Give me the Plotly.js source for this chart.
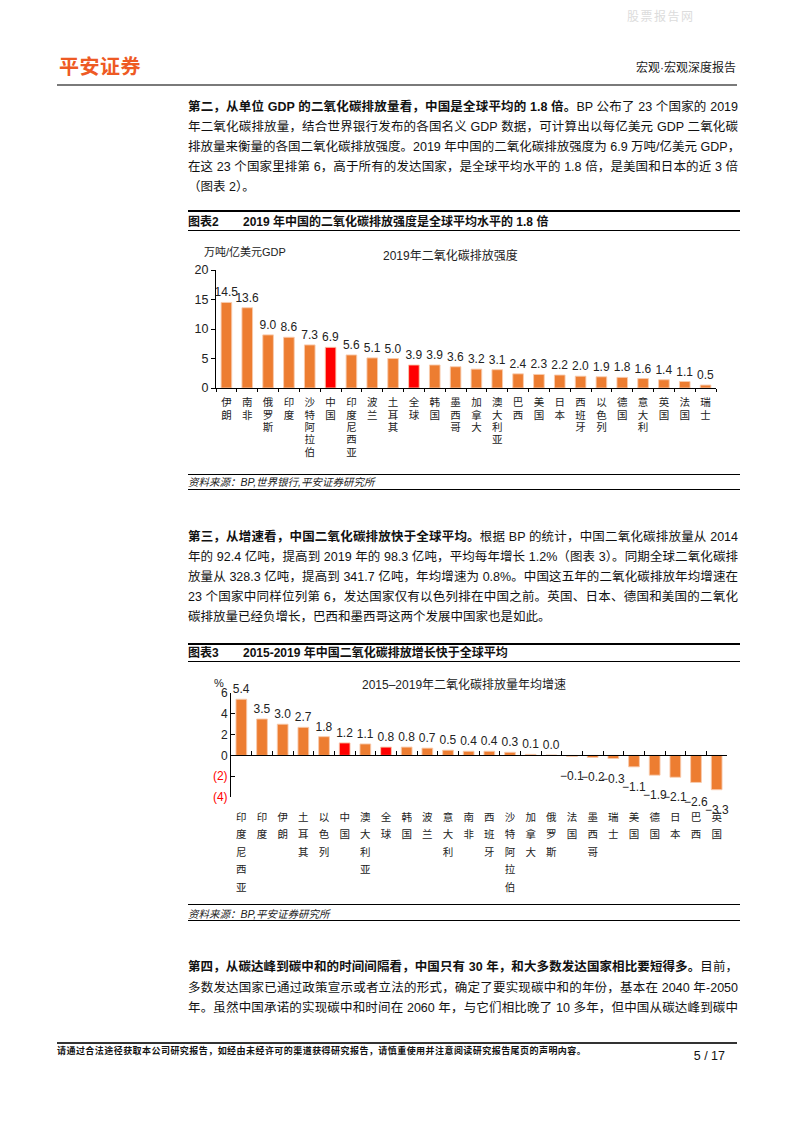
<!DOCTYPE html>
<html><head><meta charset="utf-8">
<script src="https://cdn.plot.ly/plotly-3.0.1.min.js"></script>
<style>
body{margin:0;background:#fff;}
#page{position:relative;width:793px;height:1122px;overflow:hidden;font-family:"Liberation Sans","Noto Sans CJK SC",sans-serif;color:#111;background:#fff;}
.p{position:absolute;left:188px;width:550px;height:20px;line-height:20px;font-size:12.5px;white-space:nowrap;text-align:justify;text-align-last:justify;color:#111;}
.p.last{text-align-last:left;}
.p b{font-weight:bold;}
.hr{position:absolute;left:188px;width:552px;background:#000;}
.ct{position:absolute;left:188px;font-size:12px;font-weight:bold;line-height:16px;white-space:nowrap;}
.ct span{position:absolute;left:55px;top:0;}
.src{position:absolute;left:188px;font-size:10.5px;font-style:italic;line-height:14px;color:#222;white-space:nowrap;}
.chart{position:absolute;left:188px;}
</style></head>
<body>
<div id="page">
  <div style="position:absolute;left:627px;top:7px;font-size:12px;letter-spacing:1.5px;color:#dcdcdc;">股票报告网</div>
  <div style="position:absolute;left:59px;top:55px;font-size:20px;font-weight:bold;color:#EE5A24;line-height:24px;letter-spacing:0.5px;">平安证券</div>
  <div style="position:absolute;right:57px;top:60px;font-size:12px;color:#222;line-height:16px;">宏观·宏观深度报告</div>
  <div style="position:absolute;left:57px;top:84px;width:680px;height:2px;background:#7a7a7a;"></div>

  <div class="p" style="top:97px;"><b>第二，从单位 GDP 的二氧化碳排放量看，中国是全球平均的 1.8 倍。</b>BP 公布了 23 个国家的 2019</div>
  <div class="p" style="top:117px;">年二氧化碳排放量，结合世界银行发布的各国名义 GDP 数据，可计算出以每亿美元 GDP 二氧化碳</div>
  <div class="p" style="top:137px;">排放量来衡量的各国二氧化碳排放强度。2019 年中国的二氧化碳排放强度为 6.9 万吨/亿美元 GDP，</div>
  <div class="p" style="top:157px;">在这 23 个国家里排第 6，高于所有的发达国家，是全球平均水平的 1.8 倍，是美国和日本的近 3 倍</div>
  <div class="p last" style="top:177px;">（图表 2）。</div>

  <div class="hr" style="top:210px;height:1.5px;"></div>
  <div class="ct" style="top:214px;">图表2<span>2019 年中国的二氧化碳排放强度是全球平均水平的 1.8 倍</span></div>
  <div class="hr" style="top:230px;height:1px;"></div>

  <div id="chart2" class="chart" style="top:235px;width:552px;height:237px;"></div>

  <div class="hr" style="top:474px;height:1.2px;"></div>
  <div class="src" style="top:475px;">资料来源：BP,世界银行,平安证券研究所</div>
  <div class="hr" style="top:489px;height:1px;"></div>

  <div class="p" style="top:527px;"><b>第三，从增速看，中国二氧化碳排放快于全球平均。</b>根据 BP 的统计，中国二氧化碳排放量从 2014</div>
  <div class="p" style="top:547px;">年的 92.4 亿吨，提高到 2019 年的 98.3 亿吨，平均每年增长 1.2%（图表 3）。同期全球二氧化碳排</div>
  <div class="p" style="top:567px;">放量从 328.3 亿吨，提高到 341.7 亿吨，年均增速为 0.8%。中国这五年的二氧化碳排放年均增速在</div>
  <div class="p" style="top:587px;">23 个国家中同样位列第 6，发达国家仅有以色列排在中国之前。英国、日本、德国和美国的二氧化</div>
  <div class="p last" style="top:607px;">碳排放量已经负增长，巴西和墨西哥这两个发展中国家也是如此。</div>

  <div class="hr" style="top:643px;height:1.5px;"></div>
  <div class="ct" style="top:645px;">图表3<span>2015-2019 年中国二氧化碳排放增长快于全球平均</span></div>
  <div class="hr" style="top:661px;height:1px;"></div>

  <div id="chart3" class="chart" style="top:667px;width:552px;height:236px;"></div>

  <div class="hr" style="top:904px;height:1.2px;"></div>
  <div class="src" style="top:907px;">资料来源：BP,平安证券研究所</div>
  <div class="hr" style="top:920px;height:1px;"></div>

  <div class="p" style="top:957px;"><b>第四，从碳达峰到碳中和的时间间隔看，中国只有 30 年，和大多数发达国家相比要短得多。</b>目前，</div>
  <div class="p" style="top:978px;">多数发达国家已通过政策宣示或者立法的形式，确定了要实现碳中和的年份，基本在 2040 年-2050</div>
  <div class="p" style="top:998px;">年。虽然中国承诺的实现碳中和时间在 2060 年，与它们相比晚了 10 多年，但中国从碳达峰到碳中</div>

  <div style="position:absolute;left:57px;top:1042px;width:680px;height:2px;background:#333;"></div>
  <div style="position:absolute;left:57px;top:1045px;font-size:9px;font-weight:bold;letter-spacing:0.45px;line-height:12px;color:#111;white-space:nowrap;">请通过合法途径获取本公司研究报告，如经由未经许可的渠道获得研究报告，请慎重使用并注意阅读研究报告尾页的声明内容。</div>
  <div style="position:absolute;right:68px;top:1048px;font-size:12.5px;line-height:16px;color:#111;">5 / 17</div>
</div>

<script>
// ---- Chart 2 data: 2019 CO2 emission intensity (万吨/亿美元GDP)
const cats2 = ['伊朗','南非','俄罗斯','印度','沙特阿拉伯','中国','印度尼西亚','波兰','土耳其','全球','韩国','墨西哥','加拿大','澳大利亚','巴西','美国','日本','西班牙','以色列','德国','意大利','英国','法国','瑞士'];
const vals2 = [14.5,13.6,9.0,8.6,7.3,6.9,5.6,5.1,5.0,3.9,3.9,3.6,3.2,3.1,2.4,2.3,2.2,2.0,1.9,1.8,1.6,1.4,1.1,0.5];
const yTicks2 = [0,5,10,15,20];

// ---- Chart 3 data: 2015-2019 average annual growth of CO2 emissions (%)
const cats3 = ['印度尼西亚','印度','伊朗','土耳其','以色列','中国','澳大利亚','全球','韩国','波兰','意大利','南非','西班牙','沙特阿拉伯','加拿大','俄罗斯','法国','墨西哥','瑞士','美国','德国','日本','巴西','英国'];
const vals3 = [5.4,3.5,3.0,2.7,1.8,1.2,1.1,0.8,0.8,0.7,0.5,0.4,0.4,0.3,0.1,0.04,-0.1,-0.2,-0.3,-1.1,-1.9,-2.1,-2.6,-3.3];
const yTicks3 = [6,4,2,0,-2,-4];
const yTickText3 = ['6','4','2','0','(2)','(4)'];

const highlight = ['中国','全球'];
const ORANGE = '#ED7D31', RED = '#FF0000';
const FONT = 'Liberation Sans, Noto Sans CJK SC, sans-serif';

function vert(name, size){
  return name.split('').map(c => '<span style="font-size:' + size + 'px">' + c + '</span>').join('<br>');
}
function fmt(v){ return (v < 0 ? '−' : '') + Math.abs(v).toFixed(1); }

const cfg = {staticPlot:true, displayModeBar:false};

// ---------- Chart 2 ----------
Plotly.newPlot('chart2', [{
  type:'bar', x:cats2, y:vals2, width:0.51,
  marker:{color:cats2.map(c => highlight.includes(c) ? RED : ORANGE), line:{color:'rgba(248,203,173,0.9)', width:1}},
  text: vals2.map(fmt), textposition:'outside', cliponaxis:false, constraintext:'none',
  textfont:{size:12, color:'#222', family:FONT}, hoverinfo:'skip'
}], {
  width:552, height:237, margin:{l:28, r:24, t:35, b:84},
  paper_bgcolor:'rgba(0,0,0,0)', plot_bgcolor:'rgba(0,0,0,0)',
  font:{family:FONT, size:12, color:'#222'}, showlegend:false,
  xaxis:{type:'category', categoryarray:cats2, range:[-0.5, cats2.length-0.5], showline:true, linecolor:'#000', linewidth:1,
    ticks:'outside', ticklen:3, tickcolor:'#000', tickson:'boundaries', tickmode:'array', tickvals:cats2,
    ticktext:cats2.map(c => vert(c, 10.5)), tickangle:0, tickfont:{size:9.5, color:'#222'}, ticklabelstandoff:6,
    showgrid:false, zeroline:false},
  yaxis:{range:[0,20], tickmode:'array', tickvals:yTicks2, showline:true, linecolor:'#000', linewidth:1, ticks:'outside', ticklen:4,
    tickcolor:'#000', showgrid:false, zeroline:false, tickfont:{size:12.5, color:'#222'}},
  annotations:[
    {xref:'paper', yref:'paper', x:0.469, y:1.127, text:'2019年二氧化碳排放强度', showarrow:false, font:{size:12, color:'#222'}, xanchor:'center', yanchor:'middle'},
    {xref:'paper', yref:'paper', x:-0.028, y:1.153, text:'万吨/亿美元GDP', showarrow:false, font:{size:11, color:'#222'}, xanchor:'left', yanchor:'middle'}
  ]
}, cfg);

// ---------- Chart 3 ----------
const ann3 = [
  {xref:'paper', yref:'paper', x:0.47, y:1.077, text:'2015–2019年二氧化碳排放量年均增速', showarrow:false, font:{size:12, color:'#222'}, xanchor:'center', yanchor:'middle'},
  {xref:'paper', yref:'paper', x:-0.024, y:1.1, text:'%', showarrow:false, font:{size:11, color:'#222'}, xanchor:'center', yanchor:'middle'}
];
cats3.forEach((c, i) => {
  if (vals3[i] < 0) ann3.push({xref:'x', yref:'y', x:c, y:vals3[i], text:fmt(vals3[i]), showarrow:false, yanchor:'top', xanchor:'center', yshift:-11, font:{size:12, color:'#222'}});
});
Plotly.newPlot('chart3', [{
  type:'bar', x:cats3, y:vals3, width:0.52,
  marker:{color:cats3.map(c => highlight.includes(c) ? RED : ORANGE), line:{color:'rgba(248,203,173,0.9)', width:1}},
  text: vals3.map(v => v >= 0 ? fmt(v) : ''), textposition:'outside', cliponaxis:false, constraintext:'none',
  textfont:{size:12, color:'#222', family:FONT}, hoverinfo:'skip'
},{
  type:'scatter', x:cats3, y:cats3.map(() => 0), xaxis:'x2', mode:'markers', marker:{opacity:0}, hoverinfo:'skip', showlegend:false
}], {
  width:552, height:236, margin:{l:43, r:13, t:26, b:106},
  paper_bgcolor:'rgba(0,0,0,0)', plot_bgcolor:'rgba(0,0,0,0)',
  font:{family:FONT, size:12, color:'#222'}, showlegend:false,
  xaxis:{type:'category', categoryarray:cats3, range:[-0.5, cats3.length-0.5], showline:false, ticks:'', tickmode:'array', tickvals:cats3,
    ticktext:cats3.map(c => vert(c, 10.5)), tickangle:0, tickfont:{size:13.5, color:'#222'}, ticklabelstandoff:9,
    showgrid:false, zeroline:false},
  xaxis2:{type:'category', categoryarray:cats3, range:[-0.5, cats3.length-0.5], overlaying:'x', anchor:'free', position:0.4,
    showline:true, linecolor:'#000', linewidth:1, ticks:'inside', ticklen:4, tickcolor:'#000', tickson:'boundaries',
    showticklabels:false, showgrid:false, zeroline:false},
  yaxis:{range:[-4,6], tickmode:'array', tickvals:yTicks3,
    ticktext:yTicks3.map((v, i) => v < 0 ? '<span style="color:#FF0000">' + yTickText3[i] + '</span>' : yTickText3[i]),
    showline:true, linecolor:'#000', linewidth:1, ticks:'inside', ticklen:4, tickcolor:'#000', showgrid:false, zeroline:false,
    tickfont:{size:12, color:'#222'}},
  annotations:ann3
}, cfg);
</script>
</body></html>
